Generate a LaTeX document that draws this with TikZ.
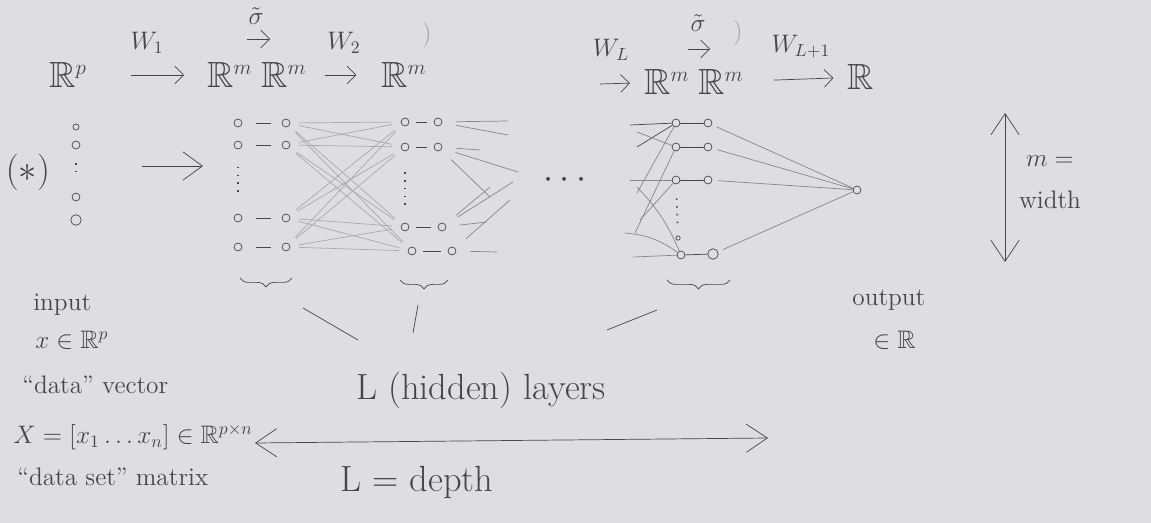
\documentclass[tikz,border=0pt]{standalone}
\usepackage{amssymb}
\usetikzlibrary{arrows.meta,calc,decorations.pathreplacing}
\definecolor{paper}{RGB}{221,222,225}
\definecolor{ink}{RGB}{70,70,72}
\definecolor{pencil}{RGB}{135,135,138}
\definecolor{faint}{RGB}{170,170,173}

\tikzset{
  unit/.style={circle,draw=ink,fill=paper,inner sep=0pt,minimum size=4.5pt},
  bigunit/.style={unit,minimum size=6pt},
  spacelabel/.style={text=ink,inner sep=0pt,font=\huge},
  hand/.style={text=ink,inner sep=0pt,font=\Large},
  maparrow/.style={draw=ink,-{Straight Barb[length=5pt,width=10pt]}},
  bigarrow/.style={draw=ink,{Straight Barb[length=12pt,width=16pt]}-{Straight Barb[length=12pt,width=16pt]}},
  weight/.style={draw=faint},
  stub/.style={draw=pencil},
  gap/.style={draw=ink,line width=0.9pt,dash pattern=on 0.9pt off 3.5pt},
  layerbrace/.style={draw=ink,decorate,decoration={brace,mirror,amplitude=5pt}}
}
\newcommand{\Rdim}[1]{\mathbb{R}^{\scriptscriptstyle #1}}

\begin{document}
\begin{tikzpicture}[x=0.02cm,y=-0.02cm]
\fill[paper] (0,0) rectangle (1151,523);
\useasboundingbox (0,0) rectangle (1151,523);

% spaces and maps on top
\node[spacelabel] (Rp) at (68,75) {$\Rdim{p}$};
\node[spacelabel] (Rm1) at (230,75) {$\Rdim{m}$};
\node[spacelabel] (Rm2) at (284,75) {$\Rdim{m}$};
\node[spacelabel] (Rm3) at (404,75) {$\Rdim{m}$};
\node[spacelabel] (RmL) at (667,82) {$\Rdim{m}$};
\node[spacelabel] (RmM) at (721,82) {$\Rdim{m}$};
\node[spacelabel] (Rout) at (861,77) {$\mathbb{R}$};
\node[hand] (sig1) at (256,16) {$\tilde\sigma$};
\node[hand] (sig2) at (698,23) {$\tilde\sigma$};
\node[hand,text=faint] (br1) at (427,35) {)};
\node[hand,text=faint] (br2) at (738,33) {)};
\coordinate (wl) at (600,84);

\draw[maparrow,shorten <=25pt,shorten >=13pt] (Rp) -- node[hand,above=12pt]{$W_1$} (Rm1);
\draw[maparrow,shorten <=10pt,shorten >=14pt] (Rm2) -- node[hand,above=12pt]{$W_2$} (Rm3);
\draw[maparrow,shorten >=8pt] (wl) -- node[hand,pos=0.25,above=13pt]{$W_L$} (RmL);
\draw[maparrow,shorten <=17pt,shorten >=8pt] (RmM) -- node[hand,pos=0.55,above=12pt]{$W_{L+1}$} (Rout);
\draw[maparrow] ($(sig1)+(-9,23)$) -- ++(23,0);
\draw[maparrow] ($(sig2)+(-10,26)$) -- ++(22,0);

% input
\node[hand,font=\huge] (star) at (28,172) {$(\ast)$};
\node[unit,minimum size=3.5pt] (i1) at (76,127) {};
\node[unit] (i2) at (76,145) {};
\node[unit] (i3) at (76,197) {};
\node[bigunit] (i4) at (76,220) {};
\draw[gap,shorten <=8pt,shorten >=12pt] (i2) -- (i3);
\coordinate (fw1) at (142,166);
\coordinate (fw2) at (203,166);
\draw[draw=ink,-{Straight Barb[length=11pt,width=16pt]}] (fw1) -- (fw2);

% hidden layer 1
\foreach \n/\y in {1/123,2/145,3/218,4/247} {
  \node[unit] (a\n) at (238,\y) {};
  \node[unit] (b\n) at (286,\y) {};
  \draw[ink,shorten <=8pt,shorten >=6pt] (a\n) -- (b\n);
}
\draw[gap,shorten <=10pt,shorten >=12pt] (a2) -- (a3);

% hidden layer 2
\foreach \n/\xa/\xb/\y in {1/405/438/122,2/405/438/147,3/405/442/227,4/412/452/251} {
  \node[unit] (c\n) at (\xa,\y) {};
  \node[unit] (d\n) at (\xb,\y) {};
  \draw[ink,shorten <=4pt,shorten >=4pt] (c\n) -- (d\n);
}
\draw[gap,shorten <=12pt,shorten >=9pt] (c2) -- (c3);

% weights between layer 1 and 2
\foreach \i in {1,...,4}
  \foreach \j in {1,...,4}
    \draw[weight,shorten <=5pt,shorten >=5pt] (b\i) -- (c\j);

% outgoing stubs of layer 2
\foreach \n/\x/\y in {1/508/121,2/508/135,3/480/150,4/518/172,5/490/197,6/513/182,7/490/187,8/487/222,9/510/200,10/497/252}
  \coordinate (s\n) at (\x,\y);
\foreach \d/\s in {1/1,1/2,2/3,2/4,2/5,3/6,3/7,3/8,4/9,4/10}
  \draw[stub,shorten <=8pt] (d\d) -- (s\s);

\node[hand,font=\huge] (dots) at (565,180) {$\cdots$};

% last hidden layer
\foreach \n/\y in {1/123,2/147,3/180} {
  \node[unit] (e\n) at (676,\y) {};
  \node[unit] (f\n) at (708,\y) {};
  \draw[ink] (e\n) -- (f\n);
}
\node[unit,minimum size=2.5pt] (e4) at (678,238) {};
\node[unit] (e5) at (681,255) {};
\node[bigunit] (f5) at (713,254) {};
\draw[ink] (e5) -- (f5);
\draw[gap,shorten <=8pt,shorten >=6pt] (e3) -- (e4);

% incoming stubs of last layer
\foreach \n/\x/\y in {1/630/125,2/637/147,3/637/132,4/637/193,5/630/180,6/640/220,7/635/233,8/625/233,9/633/257,10/637/187}
  \coordinate (t\n) at (\x,\y);
\draw[ink] (t1) -- (e1);
\draw[ink] (t2) -- (e1);
\draw[stub] (t3) -- (e2);
\draw[stub] (t4) -- (e1);
\draw[stub] (t5) -- (e3);
\draw[stub] (t6) -- (e3);
\draw[stub] (t7) -- (e2);
\draw[stub] (t8) to[bend left=15] (e5);
\draw[stub] (t9) -- (e5);
\draw[stub] (t10) to[bend left=10] (e5);

% output unit
\node[unit] (out) at (857,190) {};
\foreach \n in {1,2,3,5}
  \draw[pencil,shorten <=3pt] (f\n) -- (out);

% braces under the layers
\draw[layerbrace] (240,278) -- (292,278);
\draw[layerbrace] (400,280) -- (448,280);
\draw[layerbrace] (667,280) -- (730,280);
\coordinate (u1) at (303,308); \coordinate (v1) at (358,340);
\coordinate (u2) at (418,305); \coordinate (v2) at (413,333);
\coordinate (u3) at (657,310); \coordinate (v3) at (607,330);
\draw[ink] (u1) -- (v1);
\draw[ink] (u2) -- (v2);
\draw[ink] (u3) -- (v3);
\node[hand,font=\huge] (layers) at (481,390) {L (hidden) layers};

% input texts
\node[hand,anchor=west] (inp) at (33,305) {input};
\node[hand,anchor=west] (xin) at (35,340) {$x\in\mathbb{R}^p$};
\node[hand,anchor=west] (dvec) at (22,385) {``data'' vector};
\node[hand,anchor=west] (Xdef) at (13,437) {$X=[x_1\dots x_n]\in\mathbb{R}^{p\times n}$};
\node[hand,anchor=west] (dset) at (17,477) {``data set'' matrix};

% output texts
\node[hand,anchor=west] (outl) at (852,300) {output};
\node[hand,anchor=west] (outR) at (873,340) {$\in\mathbb{R}$};

% width and depth
\coordinate (wt) at (1005,113);
\coordinate (wb) at (1005,262);
\draw[bigarrow] (wt) -- (wb);
\node[hand,align=center] (mw) at (1050,182) {$m=$\\[6pt]width};
\coordinate (dl) at (255,443);
\coordinate (dr) at (768,438);
\draw[bigarrow] (dl) -- (dr);
\node[hand,font=\huge] (depth) at (417,482) {L = depth};

\end{tikzpicture}
\end{document}
